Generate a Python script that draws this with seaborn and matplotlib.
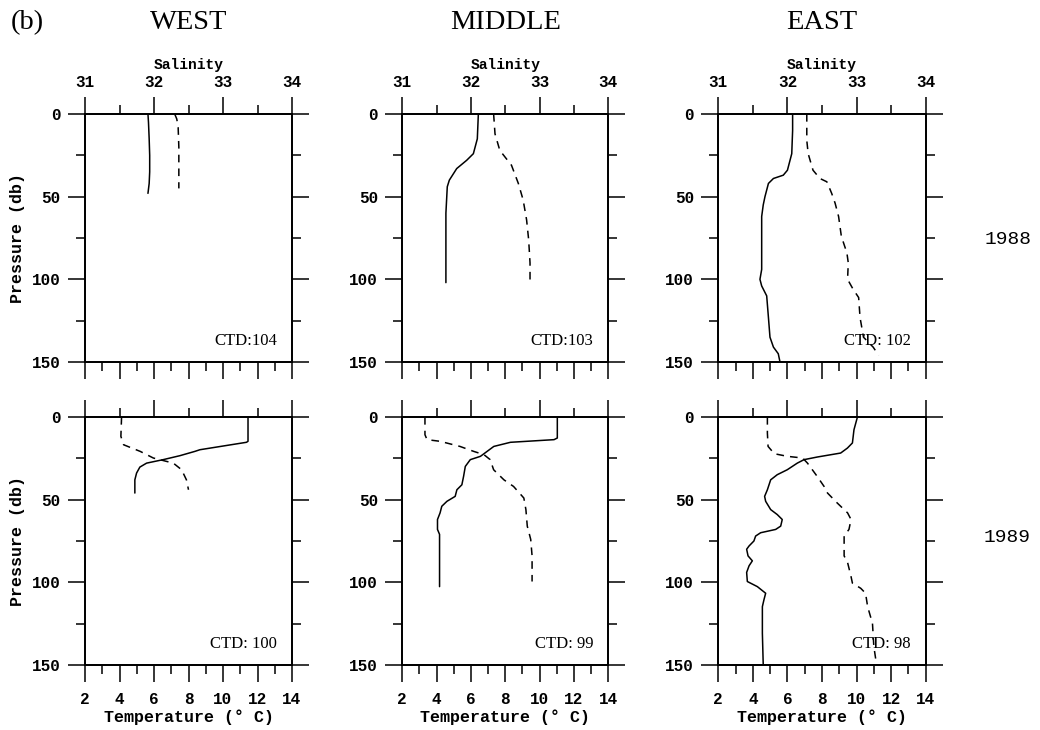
import matplotlib
matplotlib.use("Agg")
import matplotlib.pyplot as plt
import seaborn as sns
from matplotlib.ticker import MultipleLocator

sns.set_style("ticks")
plt.rcParams['font.family'] = ['Liberation Mono', 'DejaVu Sans']
plt.rcParams['font.weight'] = 'bold'
plt.rcParams['text.color'] = 'black'
plt.rcParams['axes.labelcolor'] = 'black'
plt.rcParams['xtick.color'] = 'black'
plt.rcParams['ytick.color'] = 'black'

# ---------------- data ----------------
columns = ["WEST", "MIDDLE", "EAST"]
years = ["1988", "1989"]
ctd_labels = [["CTD:104", "CTD:103", "CTD: 102"],
              ["CTD: 100", "CTD: 99", "CTD: 98"]]

# 1988 WEST
w88_t_depth = [0, 5, 15, 25, 35, 42, 48]
w88_temp = [5.65, 5.68, 5.72, 5.75, 5.75, 5.72, 5.65]
w88_s_depth = [0, 3, 8, 20, 35, 45]
w88_sal = [32.30, 32.33, 32.35, 32.36, 32.36, 32.36]

# 1988 MIDDLE
m88_t_depth = [0, 15, 24, 28, 33, 40, 44, 52, 60, 102]
m88_temp = [6.43, 6.37, 6.14, 5.75, 5.17, 4.74, 4.62, 4.58, 4.54, 4.54]
m88_s_depth = [0, 12, 22, 31, 42, 52, 64, 76, 90, 103]
m88_sal = [32.33, 32.35, 32.42, 32.59, 32.69, 32.76, 32.81, 32.84, 32.86, 32.86]

# 1988 EAST
e88_t_depth = [0, 10, 24, 28, 34, 37, 39, 42, 46, 50, 55, 62, 76, 94, 100,
               104, 110, 123, 135, 141, 145, 150]
e88_temp = [6.30, 6.30, 6.25, 6.15, 6.00, 5.76, 5.19, 4.90, 4.80, 4.70, 4.60,
            4.51, 4.51, 4.51, 4.41, 4.51, 4.80, 4.90, 4.99, 5.19, 5.47, 5.57]
e88_s_depth = [0, 16, 24, 34, 39, 41, 48, 54, 62, 74, 84, 90, 100, 106, 111,
               123, 135, 141, 146]
e88_sal = [32.28, 32.28, 32.30, 32.37, 32.47, 32.57, 32.64, 32.69, 32.74,
           32.78, 32.86, 32.88, 32.87, 32.95, 33.03, 33.05, 33.10, 33.24, 33.32]

# 1989 WEST
w89_t_depth = [0, 14.7, 15.3, 19.8, 20.8, 23.4, 25.8, 27.9, 30.3, 33.9, 38, 46]
w89_temp = [11.45, 11.45, 11.36, 8.66, 8.37, 7.50, 6.53, 5.57, 5.18, 4.99,
            4.89, 4.89]
w89_s_depth = [0, 11.7, 16.8, 20.8, 24.8, 27.9, 31.9, 38, 44]
w89_sal = [31.53, 31.52, 31.56, 31.80, 31.99, 32.28, 32.40, 32.47, 32.50]

# 1989 MIDDLE
m89_t_depth = [0, 12.7, 13.7, 15.3, 17.8, 20.8, 23.8, 25.8, 29.9, 35.9, 41,
               44, 48, 51, 54, 58, 62, 68, 71, 102.6]
m89_temp = [11.03, 11.03, 10.84, 8.30, 7.33, 6.94, 6.55, 5.96, 5.67, 5.57,
            5.47, 5.18, 5.08, 4.60, 4.30, 4.20, 4.05, 4.05, 4.17, 4.17]
m89_s_depth = [0, 10.7, 13.7, 14.7, 17.8, 20.8, 22.8, 25.8, 31.9, 38, 42, 49,
               56, 66, 74, 84, 99.5]
m89_sal = [31.33, 31.33, 31.36, 31.55, 31.84, 32.04, 32.19, 32.28, 32.33,
           32.48, 32.62, 32.77, 32.80, 32.82, 32.87, 32.89, 32.89]

# 1989 EAST
e89_t_depth = [0, 7.7, 15.7, 18.8, 21.8, 24.2, 25.8, 27.9, 31.9, 34.9, 38, 44,
               48, 51, 56, 59, 62, 66, 68, 70, 72, 75, 78, 80, 84, 87, 90, 94,
               99.5, 102.6, 106.6, 110.6, 114.7, 130.8, 150]
e89_temp = [10.05, 9.85, 9.76, 9.47, 9.08, 7.73, 6.96, 6.57, 5.99, 5.41, 5.03,
            4.84, 4.68, 4.74, 5.03, 5.41, 5.70, 5.61, 5.32, 4.45, 4.16, 4.06,
            3.78, 3.64, 3.72, 3.97, 3.78, 3.64, 3.68, 4.26, 4.74, 4.64, 4.55,
            4.55, 4.60]
e89_s_depth = [0, 9.7, 17.8, 22.2, 23.8, 24.8, 27.9, 35.9, 42, 46, 52, 58, 62,
               68, 72, 84, 88, 96.5, 100.5, 103.6, 106.6, 114.7, 124.8, 138.9,
               150]
e89_sal = [31.71, 31.71, 31.72, 31.81, 32.00, 32.22, 32.29, 32.43, 32.53,
           32.58, 32.72, 32.87, 32.92, 32.89, 32.82, 32.82, 32.87, 32.92,
           32.94, 33.06, 33.13, 33.16, 33.23, 33.25, 33.29]

profiles = [
    [(w88_t_depth, w88_temp, w88_s_depth, w88_sal),
     (m88_t_depth, m88_temp, m88_s_depth, m88_sal),
     (e88_t_depth, e88_temp, e88_s_depth, e88_sal)],
    [(w89_t_depth, w89_temp, w89_s_depth, w89_sal),
     (m89_t_depth, m89_temp, m89_s_depth, m89_sal),
     (e89_t_depth, e89_temp, e89_s_depth, e89_sal)],
]

# ---------------- figure ----------------
fig = plt.figure(figsize=(10.4, 7.3), dpi=100)
lefts = [85 / 1040, 402.3 / 1040, 718.3 / 1040]
widths = [207 / 1040, 206 / 1040, 207.4 / 1040]
bottoms = [1 - 362 / 730, 1 - 665 / 730]
height = 248 / 730

serif = ['Liberation Serif', 'DejaVu Serif']

for r in range(2):
    for c in range(3):
        tdep, temp, sdep, sal = profiles[r][c]
        ax = fig.add_axes([lefts[c], bottoms[r], widths[c], height])
        ax2 = ax.twiny()
        sns.lineplot(x=temp, y=tdep, ax=ax, sort=False, estimator=None,
                     color='black', linewidth=1.1)
        sns.lineplot(x=sal, y=sdep, ax=ax2, sort=False, estimator=None,
                     color='black', linewidth=1.1, linestyle=(0, (5, 4)))
        ax.set_xlim(2, 14)
        ax2.set_xlim(31, 34)
        ax.set_ylim(150, 0)
        ax.xaxis.set_major_locator(MultipleLocator(2))
        ax.xaxis.set_minor_locator(MultipleLocator(1))
        ax2.xaxis.set_major_locator(MultipleLocator(1))
        ax2.xaxis.set_minor_locator(MultipleLocator(0.5))
        ax.yaxis.set_major_locator(MultipleLocator(50))
        ax.yaxis.set_minor_locator(MultipleLocator(25))

        ax.tick_params(which='both', direction='out', bottom=True, top=False,
                       left=True, right=True, labelright=False, width=1.1,
                       colors='black', pad=5)
        ax.tick_params(which='major', length=12.5)
        ax.tick_params(which='minor', length=6.5)
        ax.tick_params(axis='x', pad=7)
        ax2.tick_params(which='both', direction='out', top=True, bottom=False,
                        width=1.1, colors='black', pad=5)
        ax2.tick_params(which='major', length=12.5)
        ax2.tick_params(which='minor', length=6.5)

        for a in (ax, ax2):
            for sp in a.spines.values():
                sp.set_linewidth(1.3)
                sp.set_color('black')
            for lab in a.get_xticklabels() + a.get_yticklabels():
                lab.set_fontfamily('Liberation Mono')
                lab.set_fontweight('bold')
                lab.set_fontsize(11.5)

        ax.set_xlabel('')
        ax.set_ylabel('')
        ax2.set_xlabel('')
        if r == 0:
            ax.tick_params(axis='x', labelbottom=False)
            ax2.set_xlabel('Salinity', fontsize=10.5, fontweight='bold',
                           family='Liberation Mono', labelpad=4)
        else:
            ax2.tick_params(axis='x', labeltop=False)
            ax.set_xlabel('Temperature (° C)', fontsize=12,
                          fontweight='bold', family='Liberation Mono',
                          labelpad=2)
        if c == 0:
            ax.set_ylabel('Pressure (db)', fontsize=12, fontweight='bold',
                          family='Liberation Mono', labelpad=5)

        ax.text(0.928, 0.083, ctd_labels[r][c], transform=ax.transAxes,
                ha='right', va='center', fontsize=12, family=serif,
                fontweight='normal')

        if r == 0:
            fig.text(lefts[c] + widths[c] / 2, 1 - 22.5 / 730, columns[c],
                     ha='center', va='center', fontsize=20.5, family=serif,
                     fontweight='normal')

fig.text(27.5 / 1040, 1 - 22.5 / 730, '(b)', ha='center', va='center',
         fontsize=20.5, family=serif, fontweight='normal')
fig.text(1008 / 1040, 1 - 240 / 730, years[0], ha='center', va='center',
         fontsize=14, family='Liberation Mono', fontweight='normal')
fig.text(1007 / 1040, 1 - 537 / 730, years[1], ha='center', va='center',
         fontsize=14, family='Liberation Mono', fontweight='normal')

fig.savefig('out.png', dpi=100)
